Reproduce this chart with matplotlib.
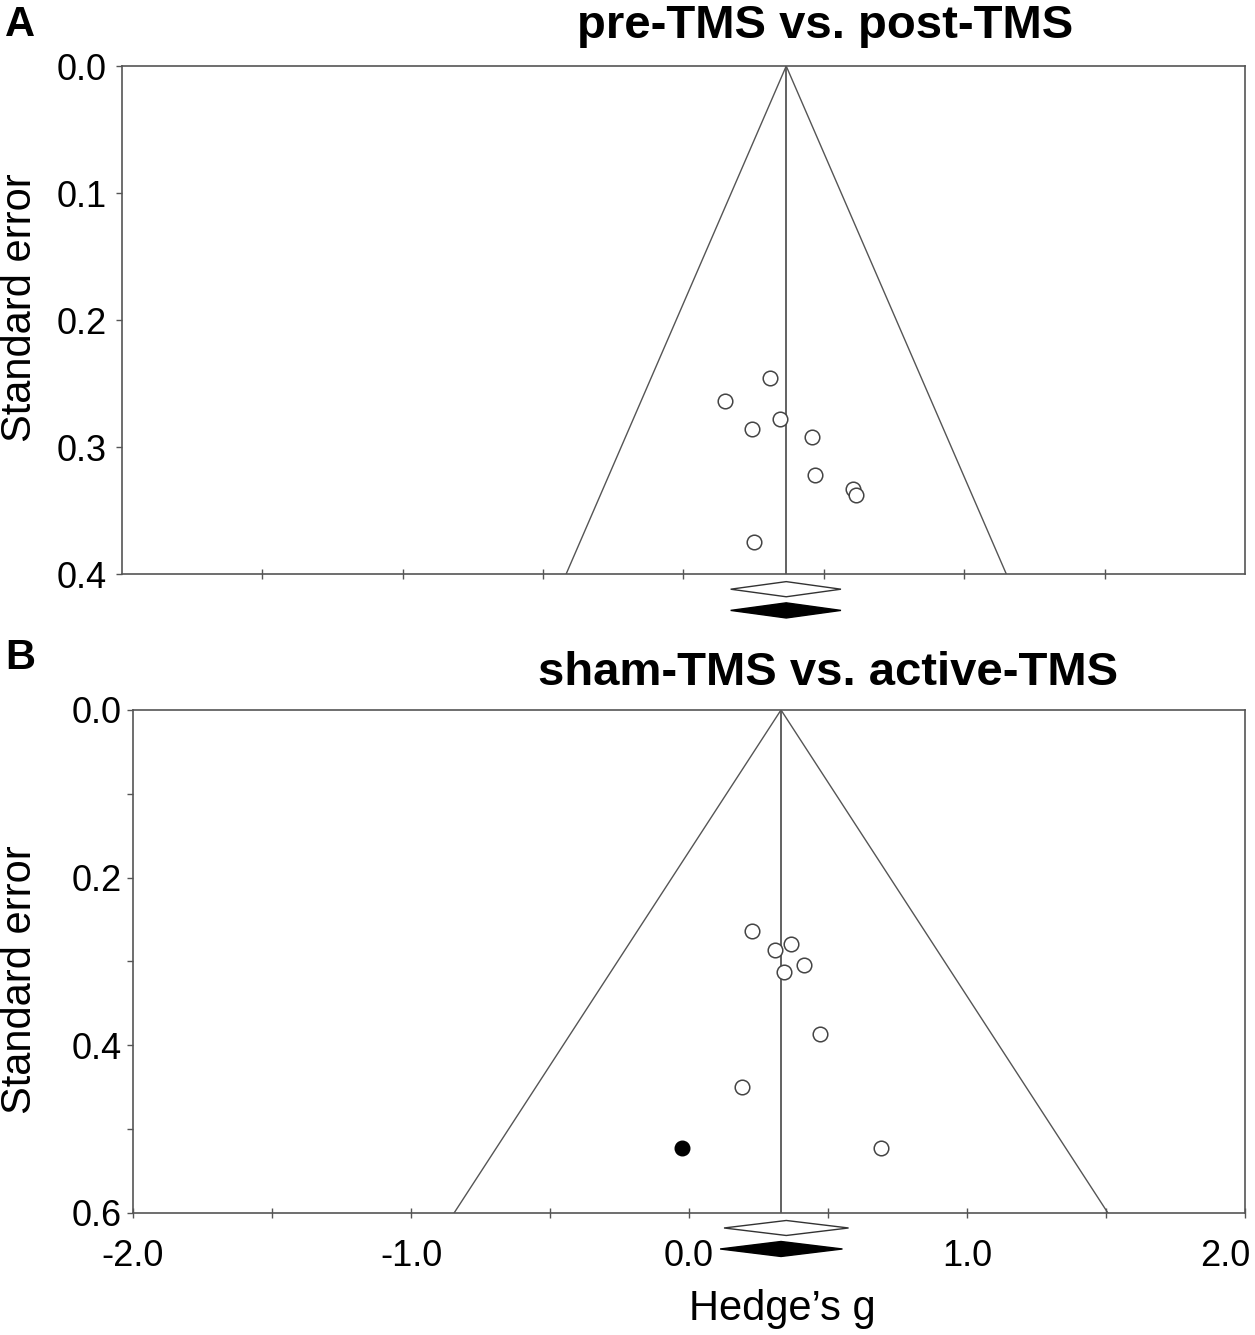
import matplotlib
matplotlib.use("Agg")
import matplotlib.pyplot as plt
import matplotlib.transforms as mtransforms
import numpy as np

plt.rcParams['font.family'] = ['Liberation Sans', 'DejaVu Sans']

# panel A: pre-TMS vs. post-TMS
a_g = [0.308, 0.148, 0.344, 0.243, 0.457, 0.467, 0.604, 0.613, 0.250]
a_se = [0.246, 0.264, 0.278, 0.286, 0.292, 0.322, 0.333, 0.338, 0.375]
a_mean = 0.366
a_diamond_obs = [0.168, 0.366, 0.561]
a_diamond_adj = [0.168, 0.366, 0.561]

# panel B: sham-TMS vs. active-TMS
b_g = [0.227, 0.308, 0.367, 0.413, 0.342, 0.472, 0.190, 0.690]
b_se = [0.264, 0.286, 0.279, 0.304, 0.312, 0.386, 0.450, 0.522]
b_fill_g = [-0.026]
b_fill_se = [0.522]
b_mean = 0.331
b_diamond_obs = [0.126, 0.350, 0.574]
b_diamond_adj = [0.112, 0.331, 0.552]

line_col = '#555555'

fig = plt.figure(figsize=(12.55, 13.35), dpi=100)
axA = fig.add_axes([0.0972, 0.5700, 0.8948, 0.3805])
axB = fig.add_axes([0.1060, 0.0914, 0.8860, 0.3768])


def funnel(ax, g, se, mean, semax, obs, adj, fill_g=None, fill_se=None):
	ax.set_xlim(-2, 2)
	ax.set_ylim(semax, 0)
	# funnel lines
	ax.plot([mean - 1.96 * semax, mean, mean + 1.96 * semax], [semax, 0, semax],
			color=line_col, lw=1.0)
	ax.plot([mean, mean], [0, semax], color=line_col, lw=1.3)
	ax.plot(g, se, 'o', ms=10.5, mfc='white', mec='#444444', mew=1.1, ls='none')
	if fill_g is not None:
		ax.plot(fill_g, fill_se, 'o', ms=10.5, mfc='black', mec='black', ls='none')
	# summary diamonds under the axis
	px = semax / 503.0
	yo = semax + 15 * px
	h = 7.5 * px
	ax.fill([obs[0], obs[1], obs[2], obs[1]], [yo, yo - h, yo, yo + h],
			facecolor='white', edgecolor='#333333', lw=1.0, clip_on=False)
	ya = semax + 36 * px
	ax.fill([adj[0], adj[1], adj[2], adj[1]], [ya, ya - h, ya, ya + h],
			facecolor='black', edgecolor='black', lw=1.0, clip_on=False)
	for s in ax.spines.values():
		s.set_color(line_col)
		s.set_linewidth(1.2)
	ax.tick_params(axis='x', which='both', direction='inout', length=7, width=1, color=line_col)
	ax.tick_params(axis='y', which='both', direction='out', length=4, width=1, color=line_col)
	ax.tick_params(labelsize=26)
	ax.set_ylabel('Standard error', fontsize=30)


funnel(axA, a_g, a_se, a_mean, 0.4, a_diamond_obs, a_diamond_adj)
axA.set_xticks(np.arange(-1.5, 2.0, 0.5))
axA.set_xticklabels([])
axA.set_yticks([0.0, 0.1, 0.2, 0.3, 0.4])
axA.set_yticklabels(['0.0', '0.1', '0.2', '0.3', '0.4'])
axA.tick_params(axis='y', pad=7)
axA.yaxis.set_label_coords(-0.073, 0.524)
axA.set_title('pre-TMS vs. post-TMS', fontsize=34, fontweight='bold', x=0.626, pad=20)

funnel(axB, b_g, b_se, b_mean, 0.6, b_diamond_obs, b_diamond_adj, b_fill_g, b_fill_se)
axB.set_xticks([-2.0, -1.0, 0.0, 1.0, 2.0])
axB.set_xticklabels(['-2.0', '-1.0', '0.0', '1.0', '2.0'])
axB.set_xticks([-1.5, -0.5, 0.5, 1.5], minor=True)
axB.set_yticks([0.0, 0.2, 0.4, 0.6])
axB.set_yticklabels(['0.0', '0.2', '0.4', '0.6'])
axB.set_yticks([0.1, 0.3, 0.5], minor=True)
axB.tick_params(axis='x', which='major', pad=15)
axB.tick_params(axis='y', pad=4)
axB.yaxis.set_label_coords(-0.084, 0.463)
axB.set_title('sham-TMS vs. active-TMS', fontsize=34, fontweight='bold', x=0.625, pad=18)
axB.set_xlabel('Hedge\u2019s g', fontsize=30)
axB.xaxis.set_label_coords(0.584, -0.152)

# keep the last label inside the figure like the original
labs = axB.get_xticklabels()
labs[-1].set_transform(labs[-1].get_transform() + mtransforms.ScaledTranslation(-0.2, 0, fig.dpi_scale_trans))

fig.text(0.004, 0.996, 'A', fontsize=30, fontweight='bold', va='top', ha='left')
fig.text(0.004, 0.522, 'B', fontsize=30, fontweight='bold', va='top', ha='left')

fig.savefig('out.png', dpi=100, facecolor='white')
